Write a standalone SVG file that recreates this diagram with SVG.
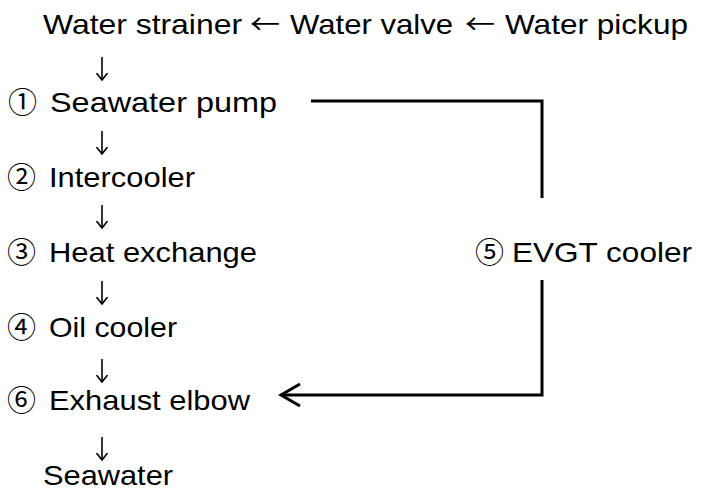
<svg xmlns="http://www.w3.org/2000/svg" width="701" height="493" viewBox="0 0 701 493">
<style>
.t{font-family:"Liberation Sans",Arial,"Noto Sans CJK JP",sans-serif;font-size:28px;fill:#000}
.c{font-family:"Noto Sans CJK JP",sans-serif;font-size:27px;fill:#000}
.n{font-family:"Noto Sans CJK JP",sans-serif;font-size:29px;fill:#000}
.ln{fill:none;stroke:#000;stroke-width:3}
.dn{fill:none;stroke:#000;stroke-width:1.6;marker-end:url(#vh)}
</style>
<defs>
<marker id="vh" viewBox="0 0 8 12" refX="7.5" refY="6" markerWidth="8" markerHeight="12" markerUnits="userSpaceOnUse" orient="auto">
<path d="M0.5,0.5 L7.5,6 L0.5,11.5" fill="none" stroke="#000" stroke-width="1.6"/>
</marker>
</defs>
<rect width="701" height="493" fill="#fff"/>
<g id="water-strainer"><text class="t" x="43" y="34" textLength="199" lengthAdjust="spacingAndGlyphs">Water strainer</text></g>
<g id="arrow-top-1"><text class="c" x="250" y="34" textLength="30" lengthAdjust="spacingAndGlyphs">←</text></g>
<g id="water-valve"><text class="t" x="290" y="34" textLength="163" lengthAdjust="spacingAndGlyphs">Water valve</text></g>
<g id="arrow-top-2"><text class="c" x="465" y="34" textLength="30" lengthAdjust="spacingAndGlyphs">←</text></g>
<g id="water-pickup"><text class="t" x="505" y="34" textLength="183" lengthAdjust="spacingAndGlyphs">Water pickup</text></g>

<g id="seawater-pump"><text class="n" x="8" y="113">①</text><text class="t" x="50" y="112" textLength="227" lengthAdjust="spacingAndGlyphs">Seawater pump</text></g>
<g id="intercooler"><text class="n" x="7" y="188">②</text><text class="t" x="49" y="187" textLength="146" lengthAdjust="spacingAndGlyphs">Intercooler</text></g>
<g id="heat-exchange"><text class="n" x="7" y="263">③</text><text class="t" x="49" y="262" textLength="208" lengthAdjust="spacingAndGlyphs">Heat exchange</text></g>
<g id="oil-cooler"><text class="n" x="7" y="338">④</text><text class="t" x="49" y="337" textLength="128" lengthAdjust="spacingAndGlyphs">Oil cooler</text></g>
<g id="exhaust-elbow"><text class="n" x="7" y="411">⑥</text><text class="t" x="49" y="410" textLength="201" lengthAdjust="spacingAndGlyphs">Exhaust elbow</text></g>
<g id="seawater"><text class="t" x="43" y="485" textLength="130" lengthAdjust="spacingAndGlyphs">Seawater</text></g>
<g id="evgt-cooler"><text class="n" x="475" y="263">⑤</text><text class="t" x="512" y="262" textLength="180" lengthAdjust="spacingAndGlyphs">EVGT cooler</text></g>

<g id="connectors">
<line class="dn" x1="102" y1="57" x2="102" y2="80"/>
<line class="dn" x1="102" y1="131" x2="102" y2="154"/>
<line class="dn" x1="102" y1="205" x2="102" y2="228"/>
<line class="dn" x1="102" y1="281" x2="102" y2="304"/>
<line class="dn" x1="102" y1="359" x2="102" y2="382"/>
<line class="dn" x1="102" y1="437" x2="102" y2="460"/>
<polyline class="ln" points="311,101 542,101 542,198"/>
<polyline class="ln" points="542,280 542,395 281,395"/>
<polyline class="ln" points="300,384 281,395 300,406"/>
</g>
</svg>
